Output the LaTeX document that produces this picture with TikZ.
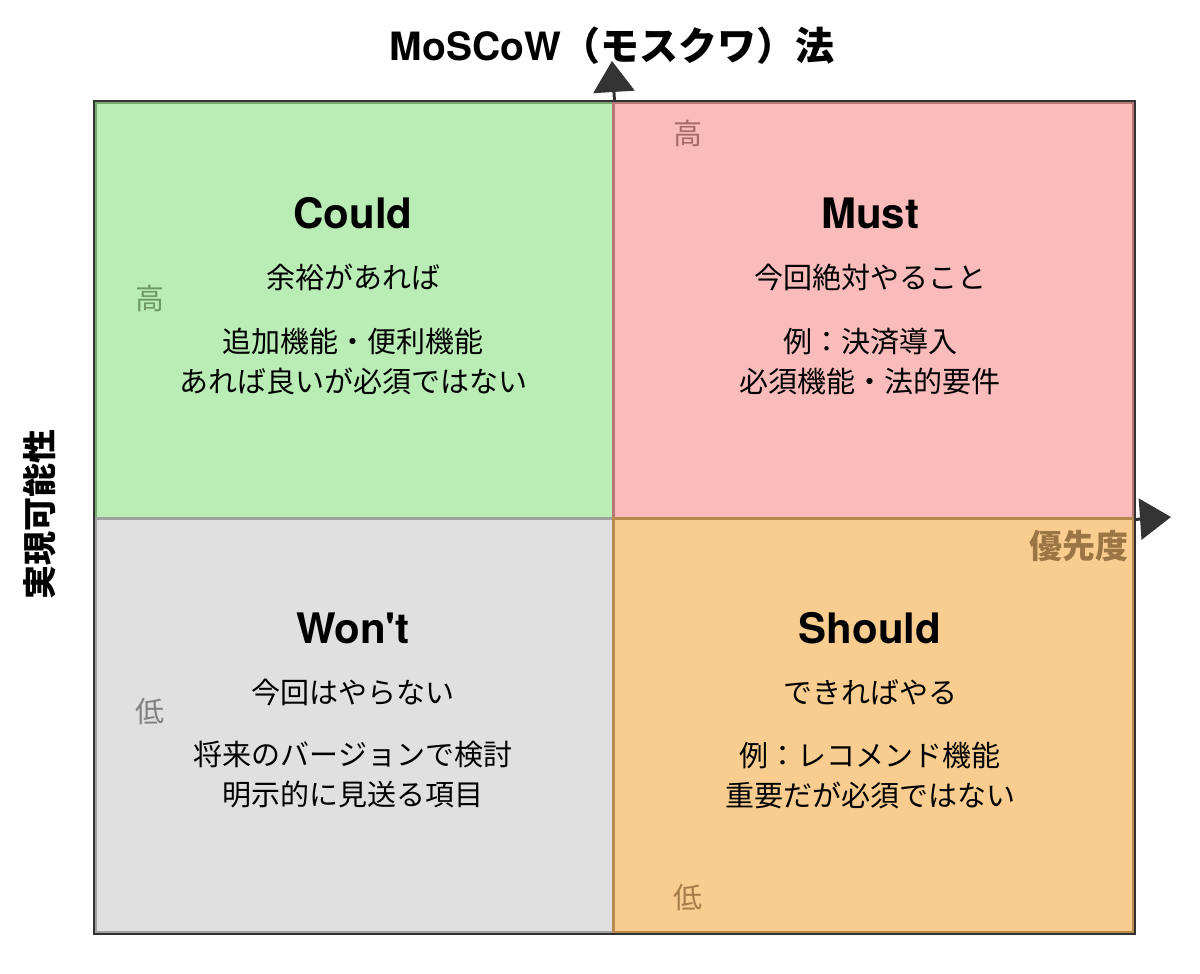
\documentclass[tikz,border=0pt]{standalone}
\usepackage{fontspec}
\setmainfont{Noto Sans CJK JP}
\newfontfamily\heros{TeX Gyre Heros}
\usetikzlibrary{arrows.meta,positioning}

\definecolor{couldfill}{RGB}{185,237,181}
\definecolor{couldline}{RGB}{122,168,116}
\definecolor{mustfill}{RGB}{250,187,187}
\definecolor{mustline}{RGB}{184,118,116}
\definecolor{wontfill}{RGB}{224,224,224}
\definecolor{wontline}{RGB}{160,160,160}
\definecolor{shouldfill}{RGB}{249,205,144}
\definecolor{shouldline}{RGB}{184,138,80}
\definecolor{framecol}{RGB}{51,51,51}

\tikzset{
  quad/.style={draw, line width=2.5pt, inner sep=0pt, anchor=north west},
  head/.style={font=\heros\bfseries\fontsize{42}{48}\selectfont},
  body/.style={font=\fontsize{29}{40}\selectfont, align=center},
  tag/.style={font=\fontsize{29}{32}\selectfont},
  axis/.style={framecol, line width=3pt, -{Triangle[width=41pt,length=31pt]}}
}

\begin{document}
\begin{tikzpicture}[x=1pt,y=-1pt]
	\useasboundingbox (0,0) rectangle (1200,974);
	% quadrants
	\node[quad, fill=couldfill, draw=couldline, minimum width=518pt, minimum height=416pt] (could) at (94,101) {};
	\node[quad, fill=mustfill, draw=mustline, minimum width=520pt, minimum height=416pt] (must) at (612,101) {};
	\node[quad, fill=wontfill, draw=wontline, minimum width=518pt, minimum height=414pt] (wont) at (94,517) {};
	\node[quad, fill=shouldfill, draw=shouldline, minimum width=520pt, minimum height=414pt] (should) at (612,517) {};
	\draw[framecol, line width=2pt] (could.north west) rectangle (should.south east);
	% axes
	\coordinate (uptip) at (612,61);
	\coordinate (righttip) at (1171,517);
	\draw[axis] (could.north east) -- (uptip);
	\draw[axis] (must.south east) -- (righttip);
	\node[font=\bfseries\fontsize{39}{44}\selectfont] (title) at (612,46) {{\heros MoSCoW}（モスクワ）法};
	\node[font=\bfseries\fontsize{33}{36}\selectfont, text=shouldline!85!black, anchor=east, inner sep=0pt] (xlabel) at (1129,546) {優先度};
	\node[font=\bfseries\fontsize{34}{38}\selectfont, rotate=90] (ylabel) at (40,514) {実現可能性};
	%
	\node[head] (couldhead) at (353,213) {Could};
	\node[body] (couldsub) at (353,277) {余裕があれば};
	\node[body] (coulddesc) at (353,361) {追加機能・便利機能\\あれば良いが必須ではない};
	\node[tag, text=couldline!90!black] (couldtag) at (150,298) {高};
	%
	\node[head] (musthead) at (870,213) {Must};
	\node[body] (mustsub) at (870,277) {今回絶対やること};
	\node[body] (mustdesc) at (870,361) {例：決済導入\\必須機能・法的要件};
	\node[tag, text=mustline!90!black] (musttag) at (688,133) {高};
	%
	\node[head] (wonthead) at (353,628) {Won\char39 t};
	\node[body] (wontsub) at (353,692) {今回はやらない};
	\node[body] (wontdesc) at (353,775) {将来のバージョンで検討\\明示的に見送る項目};
	\node[tag, text=black!50] (wonttag) at (150,712) {低};
	%
	\node[head] (shouldhead) at (870,628) {Should};
	\node[body] (shouldsub) at (870,692) {できればやる};
	\node[body] (shoulddesc) at (870,775) {例：レコメンド機能\\重要だが必須ではない};
	\node[tag, text=shouldline!90!black] (shouldtag) at (688,898) {低};
\end{tikzpicture}
\end{document}
